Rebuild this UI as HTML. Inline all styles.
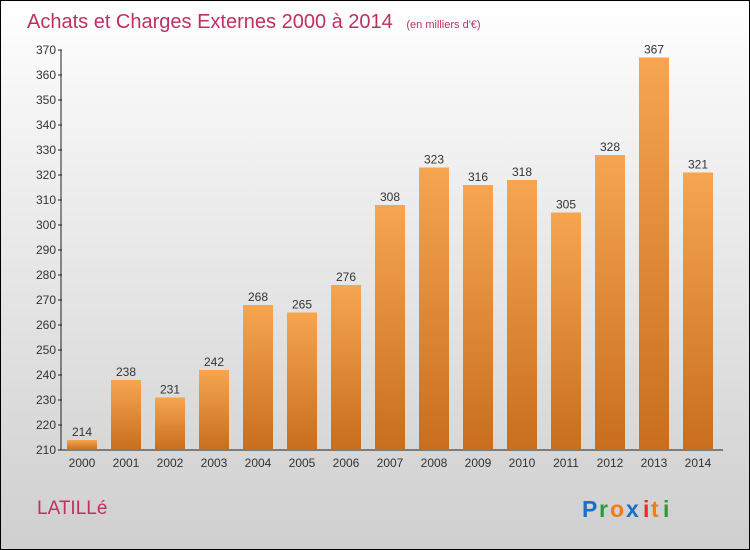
<!DOCTYPE html>
<html><head><meta charset="utf-8"><style>
body{margin:0}
#c{width:748px;height:548px;border:1px solid #000;background:linear-gradient(#fff,#f4f4f4 20%,#cfcfcf);position:relative;font-family:"Liberation Sans",sans-serif;overflow:hidden}
</style></head><body>
<div id="c">
<svg width="748" height="548" id="s">
<defs><linearGradient id="g" x1="0" y1="0" x2="0" y2="1"><stop offset="0" stop-color="#f6a550"/><stop offset="1" stop-color="#c86e1c"/></linearGradient></defs>
<text x="26" y="27" font-size="20" fill="#c0305f">Achats et Charges Externes 2000 à 2014 <tspan font-size="11" dx="8">(en milliers d'€)</tspan></text>
<text x="36" y="513" font-size="19" fill="#c0305f">LATILLé</text>
<g font-size="23" font-weight="bold"><text x="581" y="516" fill="#1a6fc9">P</text><text x="598" y="516" fill="#2a9a3a">r</text><text x="609" y="516" fill="#f07d10">o</text><text x="625" y="516" fill="#1a6fc9">x</text><text x="642" y="516" fill="#e03020">i</text><text x="650" y="516" fill="#f07d10">t</text><text x="662" y="516" fill="#2a9a3a">i</text></g>
<g id="p"></g>
</svg></div>
<script>
const years=["2000","2001","2002","2003","2004","2005","2006","2007","2008","2009","2010","2011","2012","2013","2014"];
const values=[214,238,231,242,268,265,276,308,323,316,318,305,328,367,321];
const ticks=[210,220,230,240,250,260,270,280,290,300,310,320,330,340,350,360,370];
const NS="http://www.w3.org/2000/svg",p=document.getElementById('p');
const y=v=>449-(v-210)*2.5, x=i=>81+i*44;
function mk(t,a,txt){const e=document.createElementNS(NS,t);for(const k in a)e.setAttribute(k,a[k]);if(txt!=null)e.textContent=txt;p.appendChild(e);return e;}
let e=mk('line',{x1:60,y1:49,x2:60,y2:449,stroke:'#222'});


e=mk('line',{x1:60,y1:449,x2:722,y2:449,stroke:'#222'});


ticks.forEach(t=>{
 e=mk('line',{x1:57,y1:y(t),x2:61,y2:y(t),stroke:'#222'});
 
 
 e=mk('text',{x:55,y:y(t)+4,'font-size':12,fill:'#333','text-anchor':'end'},t);
 
 
});
years.forEach((yr,i)=>{
 const v=values[i];
 e=mk('rect',{x:x(i)-15,y:y(v),width:30,height:449-y(v),fill:'url(#g)'});
 
 
 e=mk('text',{x:x(i),y:y(v)-4,'font-size':12,fill:'#333','text-anchor':'middle'},v);
 
 
 e=mk('text',{x:x(i),y:466,'font-size':12,fill:'#333','text-anchor':'middle'},yr);
 
 
});
</script>
</body></html>
